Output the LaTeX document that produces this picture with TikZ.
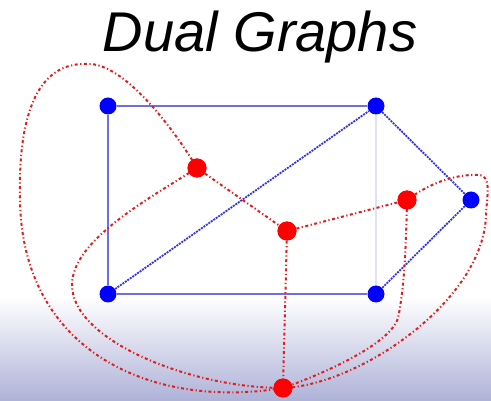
\documentclass[tikz,border=0pt]{standalone}
\usepackage{fontspec}
\setmainfont{Liberation Sans}
\begin{document}
\begin{tikzpicture}[x=1pt,y=-1pt,
  bdot/.style={circle,fill=blue,inner sep=0pt,minimum size=17pt},
  rdot/.style={circle,fill=red,inner sep=0pt,minimum size=19pt},
  bsolid/.style={draw={rgb,255:red,110;green,110;blue,225},line width=2pt},
  bfaint/.style={draw={rgb,255:red,225;green,225;blue,250},line width=2pt},
  bdash/.style={draw={rgb,255:red,50;green,50;blue,230},line width=1.8pt,dash pattern=on 2pt off 1pt},
  rdash/.style={draw={rgb,255:red,225;green,30;blue,30},line width=2pt,dash pattern=on 3pt off 2.5pt on 1.2pt off 2.5pt},
  title/.style={font=\fontsize{56}{60}\selectfont\itshape,anchor=base}]
\useasboundingbox (0,0) rectangle (491,401);
\shade[top color=white,bottom color={rgb,255:red,174;green,178;blue,216}] (0,297) rectangle (491,401);
\node[title] (t) at (260,52) {Dual Graphs};
% blue graph
\node[bdot] (TL) at (108,106) {};
\node[bdot] (TR) at (376,106) {};
\node[bdot] (BL) at (108,294) {};
\node[bdot] (BR) at (376,294) {};
\node[bdot] (R)  at (471,200) {};
\draw[bsolid] (TL) -- (TR);
\draw[bsolid] (TL) -- (BL);
\draw[bsolid] (BL) -- (BR);
\draw[bfaint] (TR) -- (BR);
\draw[bdash] (BL) -- (TR);
\draw[bdash] (TR) -- (R);
\draw[bdash] (R) -- (BR);
% dual graph
\coordinate (P1) at (87,64);
\coordinate (P2) at (20,200);
\coordinate (Q) at (72,285);
\coordinate (M) at (398,318);
\coordinate (T) at (478,175);
\coordinate (R2) at (486,215);
\node[rdot] (A) at (197,168) {};
\node[rdot] (B) at (287,231) {};
\node[rdot] (C) at (407,200) {};
\node[rdot] (D) at (283,388) {};
\draw[rdash] (A) -- (B);
\draw[rdash] (B) -- (C);
\draw[rdash] (B) -- (D);
\draw[rdash] (A.center) .. controls (177,134) and (125,62) .. (P1)
  .. controls (35,62) and (18,120) .. (P2)
  .. controls (22,350) and (150,410) .. (D.center);
\draw[rdash] (A.center) .. controls (150,198) and (72,240) .. (Q)
  .. controls (72,340) and (190,388) .. (D.center);
\draw[rdash] (C.center) .. controls (406,250) and (404,290) .. (M)
  .. controls (390,345) and (320,375) .. (D.center);
\draw[rdash] (C.center) .. controls (430,183) and (455,174) .. (T)
  .. controls (492,175) and (487,195) .. (R2)
  .. controls (484,300) and (360,385) .. (D.center);
\node[rdot] at (A) {};
\node[rdot] at (B) {};
\node[rdot] at (C) {};
\node[rdot] at (D) {};
\end{tikzpicture}
\end{document}
